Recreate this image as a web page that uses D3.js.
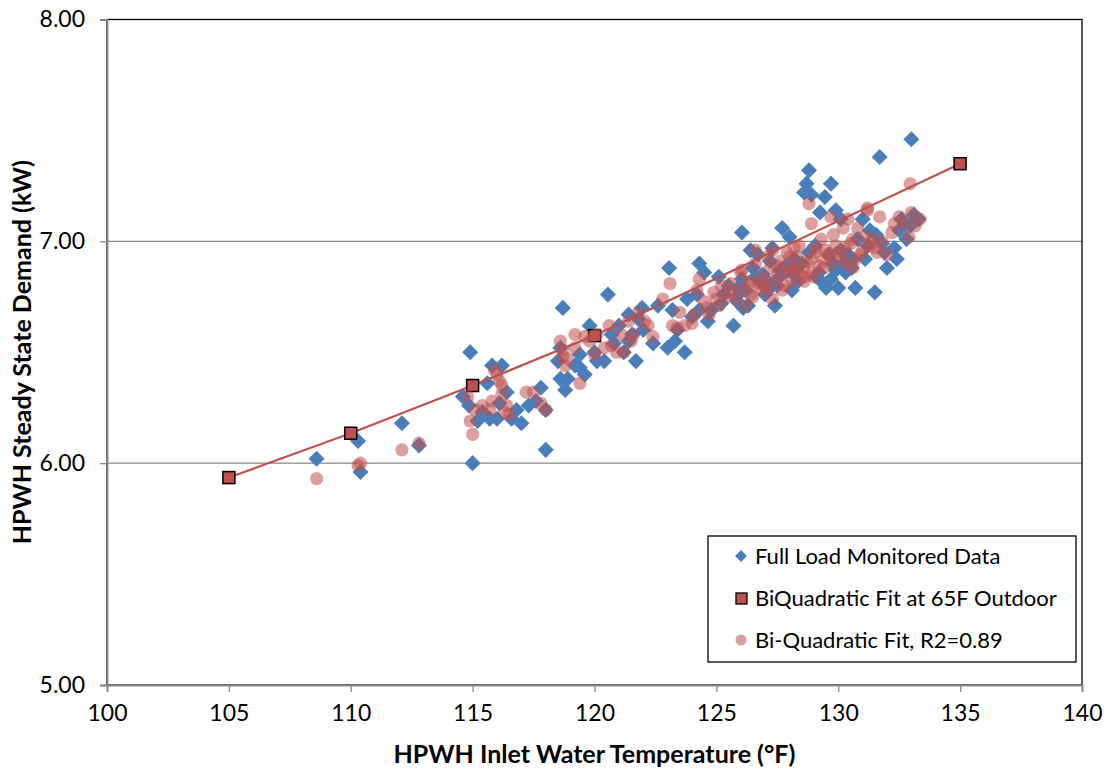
<!DOCTYPE html>
<html>
<head>
<meta charset="utf-8">
<script src="https://cdn.jsdelivr.net/npm/d3@7"></script>
<style>
  body { margin: 0; background: #fff; }
  text { font-family: Lato, "Open Sans", sans-serif; fill: #000; }
</style>
</head>
<body>
<svg id="chart" width="1111" height="774"></svg>
<script>
// measured data (inlet temp F, demand kW)
var monitoredX = [108.6,110.3,110.4,112.1,112.8,114.6,114.9,115.0,114.85,115.2,115.6,115.8,116.2,115.7,116.0,116.1,116.4,116.6,117.0,117.3,117.6,117.8,118.0,118.0,118.7,118.6,118.6,118.8,118.9,119.2,119.4,119.6,119.8,120.0,120.1,120.4,120.55,120.8,121.0,121.2,121.4,121.55,121.7,121.8,121.95,122.4,122.6,123.0,123.06,123.2,123.3,123.7,123.8,124.2,124.3,124.3,124.5,124.65,124.8,125.1,125.2,125.5,125.7,125.85,126.05,126.05,126.3,126.4,126.6,126.7,127.0,127.2,127.4,127.5,127.7,127.85,128.0,128.2,128.35,128.6,128.7,128.8,128.9,129.05,129.25,129.3,129.45,129.5,129.7,129.8,130.0,129.9,130.1,130.3,130.4,130.55,130.7,130.8,131.0,131.1,131.3,131.5,131.55,131.7,131.9,132.0,132.3,132.4,132.6,132.8,133.0,132.95,133.1,133.3,126.9,127.9,128.5,129.1,127.3,126.2,125.9,128.1,127.6,130.2,129.6,126.8,
    125.3,125.9,126.5,127.0,127.6,128.1,128.4,128.8,129.2,129.7,130.1,130.6,131.2,131.8,124.0,123.4,122.0,121.4,120.7,119.4,118.5,116.8,115.4,127.3,129.9,126.1,132.5];
var monitoredY = [6.02,6.10,5.96,6.18,6.08,6.30,6.50,6.00,6.26,6.19,6.36,6.44,6.44,6.20,6.20,6.27,6.32,6.20,6.18,6.26,6.28,6.34,6.06,6.24,6.70,6.52,6.38,6.33,6.38,6.44,6.49,6.40,6.62,6.50,6.46,6.46,6.76,6.54,6.62,6.50,6.67,6.58,6.46,6.65,6.70,6.54,6.71,6.52,6.88,6.69,6.55,6.50,6.74,6.76,6.90,6.69,6.86,6.64,6.69,6.84,6.72,6.80,6.62,6.73,7.04,6.83,6.71,6.96,6.84,6.94,6.76,6.91,6.71,6.80,7.06,6.89,7.02,6.92,6.82,7.22,7.26,7.32,7.21,6.98,7.13,6.82,7.20,6.79,7.26,6.90,6.79,7.14,7.10,6.86,6.94,6.88,6.79,7.01,7.10,6.92,7.05,6.77,7.03,7.38,6.95,6.88,6.97,6.92,7.10,7.01,7.46,7.07,7.12,7.10,6.85,6.87,6.90,6.84,6.80,6.78,6.76,6.86,6.84,6.90,6.94,6.82,
    6.76,6.79,6.88,6.83,6.87,6.78,6.89,6.95,6.86,6.83,6.96,6.92,6.98,6.99,6.66,6.60,6.60,6.55,6.58,6.43,6.46,6.24,6.23,6.97,6.87,6.70,7.05];

// biquadratic fit at 65F outdoor
var fitX = [105,110,115,120,135];
var fitY = [5.935,6.135,6.35,6.575,7.35];

// biquadratic fit, R2=0.89
var modelX = [108.6,110.3,110.4,112.1,112.8,114.9,115.0,114.8,115.1,115.4,115.7,115.9,116.0,116.1,116.2,116.3,116.4,116.5,117.2,117.5,117.8,118.0,118.6,118.7,118.7,118.8,119.2,119.2,119.4,119.8,120.1,120.4,120.6,120.7,120.9,121.1,121.4,121.5,121.8,122.05,122.4,122.8,123.1,123.2,123.4,123.7,124.1,124.2,124.3,124.5,124.7,124.9,125.1,125.2,125.4,125.6,125.8,125.9,126.05,126.2,126.3,126.5,126.6,126.75,126.9,127.05,127.2,127.3,127.4,127.6,127.7,127.85,128.0,128.1,128.2,128.4,128.5,128.7,128.8,128.9,128.9,129.05,129.2,129.3,129.5,129.7,129.7,129.9,130.1,130.2,130.3,130.4,130.6,130.7,130.8,131.0,131.2,131.2,131.3,131.4,131.6,131.7,132.0,132.2,132.5,132.7,132.95,133.0,133.15,133.35,132.9,127.5,128.3,127.0,126.4,129.4,128.6,
    126.0,126.4,126.8,127.1,127.5,127.8,128.0,128.3,128.6,128.9,129.1,129.4,129.6,129.8,130.0,130.3,130.5,130.9,131.1,131.5,125.5,125.0,124.6,124.0,123.5,122.2,121.6,121.2,120.0,119.6,118.9,116.2,115.8,127.9,128.6,129.0,126.6,127.3,132.3,131.8,130.6,128.2];
var modelY = [5.93,5.99,6.00,6.06,6.09,6.19,6.13,6.30,6.24,6.26,6.24,6.42,6.40,6.37,6.31,6.23,6.26,6.22,6.32,6.32,6.27,6.24,6.55,6.51,6.48,6.44,6.58,6.52,6.36,6.55,6.58,6.52,6.62,6.53,6.50,6.58,6.64,6.55,6.68,6.64,6.57,6.74,6.81,6.62,6.61,6.62,6.67,6.78,6.83,6.73,6.67,6.77,6.71,6.80,6.75,6.81,6.74,6.78,6.87,6.71,6.80,6.75,6.90,6.81,6.84,6.78,6.88,6.96,6.82,6.91,6.78,6.86,6.93,6.82,6.88,6.98,6.84,6.91,7.17,6.86,7.08,6.95,6.89,7.01,6.96,7.11,6.90,6.98,6.93,7.06,6.97,7.10,7.01,6.92,7.06,6.96,7.14,7.15,6.98,7.01,6.95,7.11,6.94,7.04,7.11,7.08,7.26,7.13,7.07,7.10,7.02,6.85,6.87,6.80,6.76,6.92,6.84,
    6.86,6.82,6.79,6.93,6.89,6.80,6.87,6.93,6.88,6.92,6.97,6.88,6.94,7.03,6.95,6.90,6.99,6.94,7.02,6.97,6.77,6.74,6.70,6.63,6.68,6.62,6.58,6.50,6.49,6.57,6.47,6.35,6.28,6.95,6.82,6.84,6.96,6.74,7.08,7.00,6.88,6.97];

var xTicks = [100,105,110,115,120,125,130,135,140];
var yTicks = [5,6,7,8];
var legendLabels = ["Full Load Monitored Data", "BiQuadratic Fit at 65F Outdoor", "Bi-Quadratic Fit, R2=0.89"];

var blue = "#4a7ebb", red = "#c0504d";
var svg = d3.select("#chart");
var pLeft = 107, pRight = 1082, pTop = 19.5, pBottom = 685;

var x = d3.scaleLinear().domain([100,140]).range([pLeft,pRight]);
var y = d3.scaleLinear().domain([5,8]).range([pBottom,pTop]);

// gridlines
svg.append("g").selectAll("line").data(yTicks.slice(1,3)).enter().append("line")
    .attr("x1", pLeft).attr("x2", pRight)
    .attr("y1", function(d){ return y(d); }).attr("y2", function(d){ return y(d); })
    .attr("stroke", "#868686").attr("stroke-width", 1.3);

// frame (top/right black)
svg.append("rect").attr("x", pLeft).attr("y", pTop).attr("width", pRight-pLeft).attr("height", pBottom-pTop)
    .attr("fill", "none").attr("stroke", "#000").attr("stroke-width", 1.3);

// axes
var xAxis = svg.append("g").attr("transform", "translate(0," + pBottom + ")")
    .call(d3.axisBottom(x).tickValues(xTicks).tickSize(7).tickPadding(13).tickFormat(d3.format("d")));
var yAxis = svg.append("g").attr("transform", "translate(" + pLeft + ",0)")
    .call(d3.axisLeft(y).tickValues(yTicks).tickSize(7).tickPadding(15).tickFormat(d3.format(".2f")));
[xAxis, yAxis].forEach(function(a){
    a.select(".domain").attr("stroke", "#868686").attr("stroke-width", 1.8);
    a.selectAll(".tick line").attr("stroke", "#868686").attr("stroke-width", 1.3);
    a.selectAll("text").attr("font-size", 23).attr("font-family", "Lato, sans-serif").attr("fill", "#000");
});

// monitored diamonds
var diamond = d3.symbol().type(d3.symbolDiamond2).size(165);
svg.append("g").selectAll("path").data(monitoredX).enter().append("path")
    .attr("d", diamond)
    .attr("transform", function(d, i){ return "translate(" + x(d) + "," + y(monitoredY[i]) + ")"; })
    .attr("fill", blue);

// fit line + squares
var fitPts = fitX.map(function(d, i){ return [d, fitY[i]]; });
svg.append("path").datum(fitPts)
    .attr("d", d3.line().x(function(d){ return x(d[0]); }).y(function(d){ return y(d[1]); }))
    .attr("fill", "none").attr("stroke", red).attr("stroke-width", 2.2);
svg.append("g").selectAll("rect").data(fitPts).enter().append("rect")
    .attr("x", function(d){ return x(d[0]) - 6; }).attr("y", function(d){ return y(d[1]) - 6; })
    .attr("width", 12).attr("height", 12)
    .attr("fill", red).attr("stroke", "#000").attr("stroke-width", 1.5);

// model circles
svg.append("g").selectAll("circle").data(modelX).enter().append("circle")
    .attr("cx", function(d){ return x(d); }).attr("cy", function(d, i){ return y(modelY[i]); })
    .attr("r", 6.6).attr("fill", red).attr("fill-opacity", 0.55);

// titles
svg.append("text").attr("x", (pLeft+pRight)/2).attr("y", 763).attr("text-anchor", "middle")
    .attr("font-size", 25).attr("font-weight", "bold").text("HPWH Inlet Water Temperature (°F)");
svg.append("text").attr("transform", "translate(31," + ((pTop+pBottom)/2) + ") rotate(-90)")
    .attr("text-anchor", "middle").attr("font-size", 25).attr("font-weight", "bold")
    .text("HPWH Steady State Demand (kW)");

// legend
var lg = svg.append("g");
lg.append("rect").attr("x", 708).attr("y", 536).attr("width", 368).attr("height", 126)
    .attr("fill", "#fff").attr("stroke", "#000").attr("stroke-width", 1.3);
var rowY = [556, 598, 640];
lg.append("path").attr("d", d3.symbol().type(d3.symbolDiamond2).size(90))
    .attr("transform", "translate(741," + rowY[0] + ")").attr("fill", blue);
lg.append("rect").attr("x", 736).attr("y", rowY[1]-5).attr("width", 11).attr("height", 11)
    .attr("fill", red).attr("stroke", "#000").attr("stroke-width", 1.3);
lg.append("circle").attr("cx", 741).attr("cy", rowY[2]).attr("r", 5.5)
    .attr("fill", red).attr("fill-opacity", 0.55);
lg.selectAll("text.lbl").data(legendLabels).enter().append("text").attr("class", "lbl")
    .attr("x", 755).attr("y", function(d, i){ return rowY[i] + 8; })
    .attr("font-size", 22).text(function(d){ return d; });
</script>
</body>
</html>
